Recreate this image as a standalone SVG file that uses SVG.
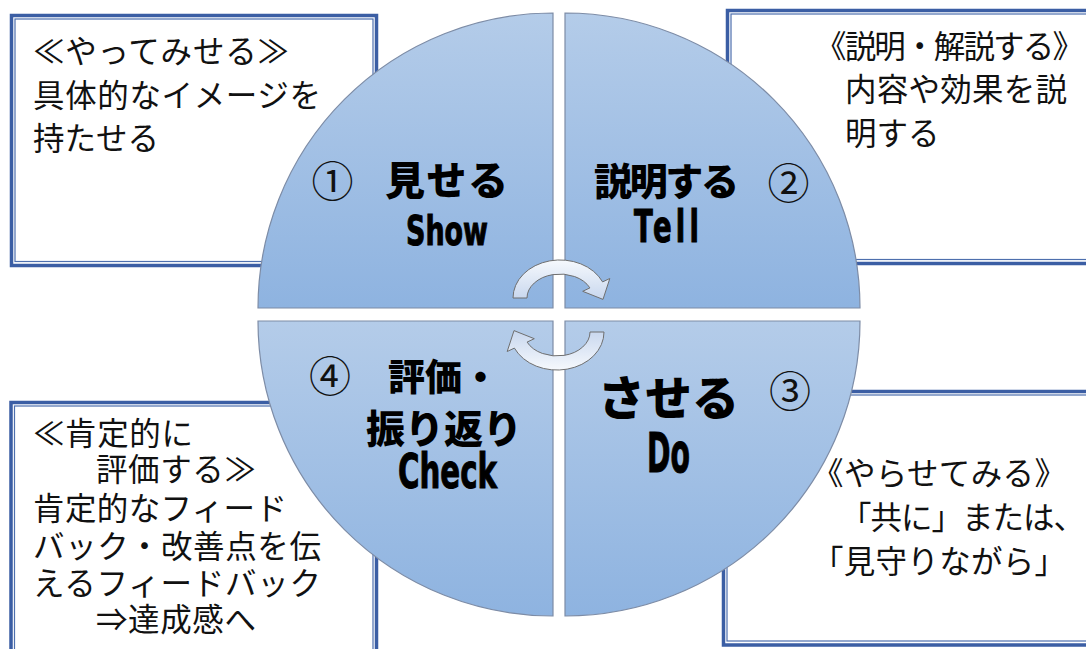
<svg xmlns="http://www.w3.org/2000/svg" width="1086" height="649" viewBox="0 0 1086 649">
<defs>
<linearGradient id="qg" x1="0" y1="0" x2="0" y2="1">
<stop offset="0" stop-color="#b4cce9"/>
<stop offset="1" stop-color="#8eb3e0"/>
</linearGradient>
<linearGradient id="ag" x1="0" y1="0" x2="0" y2="1">
<stop offset="0" stop-color="#f6f9fd"/>
<stop offset="1" stop-color="#c8d7ee"/>
</linearGradient>
<style>
.outer{fill:#fff;stroke:#3b5ea4;stroke-width:3.5}
.inner{fill:none;stroke:#4d6fae;stroke-width:1.2}
.q{fill:url(#qg);stroke:#7d8ca6;stroke-width:1.2}
.bt{font-family:"Noto Sans CJK JP","Noto Sans CJK SC",sans-serif;font-size:31.5px;fill:#111}
.jb{font-family:"Noto Sans CJK JP","Noto Sans CJK SC",sans-serif;font-weight:900;fill:#000}
.en{font-family:"Liberation Sans Narrow","DejaVu Sans Condensed","Liberation Sans",sans-serif;font-weight:bold;fill:#000;stroke:#000;stroke-width:1}
.num{font-family:"Noto Sans CJK JP","Noto Sans CJK SC",sans-serif;font-weight:400;font-size:42px;fill:#111;text-anchor:middle}
.arr{fill:url(#ag);stroke:#6f6f6f;stroke-width:1}
</style>
</defs>
<rect width="1086" height="649" fill="#fff"/>

<g id="box-show">
<rect class="outer" x="11.5" y="15.5" width="365" height="250"/>
<rect class="inner" x="15" y="19" width="358" height="242.5"/>
<text class="bt" x="33" y="63" textLength="256">≪やってみせる≫</text>
<text class="bt" x="33" y="107" textLength="288">具体的なイメージを</text>
<text class="bt" x="33" y="150">持たせる</text>
</g>

<g id="box-tell">
<rect class="outer" x="727.5" y="10.5" width="380" height="253"/>
<rect class="inner" x="731" y="14" width="380" height="245.5"/>
<text class="bt" x="815" y="58" textLength="269">《説明・解説する》</text>
<text class="bt" x="845" y="101" textLength="222">内容や効果を説</text>
<text class="bt" x="845" y="145">明する</text>
</g>

<g id="box-check">
<rect class="outer" x="11" y="402.5" width="365.5" height="260"/>
<rect class="inner" x="14.5" y="406" width="358.5" height="260"/>
<text class="bt" x="33" y="445" textLength="160">≪肯定的に</text>
<text class="bt" x="96" y="481" textLength="160">評価する≫</text>
<text class="bt" x="33" y="520" textLength="254">肯定的なフィード</text>
<text class="bt" x="33" y="558" textLength="288">バック・改善点を伝</text>
<text class="bt" x="33" y="595" textLength="288">えるフィードバック</text>
<text class="bt" x="96" y="631" textLength="160">⇒達成感へ</text>
</g>

<g id="box-do">
<rect class="outer" x="723.5" y="391.5" width="380" height="253.5"/>
<rect class="inner" x="727" y="395" width="380" height="246"/>
<text class="bt" x="812" y="485" textLength="254">《やらせてみる》</text>
<text class="bt" x="840" y="529" textLength="245">「共に」または、</text>
<text class="bt" x="812" y="573" textLength="254">「見守りながら」</text>
</g>

<g id="q-show">
<path class="q" d="M553,308 L258,308 A295,295 0 0 1 553,13 Z"/>
<text class="num" x="332.5" y="197">①</text>
<text class="jb" x="385" y="195" font-size="40" textLength="123">見せる</text>
<text class="en" x="406" y="245" font-size="41" textLength="82" lengthAdjust="spacingAndGlyphs">Show</text>
</g>

<g id="q-tell">
<path class="q" d="M565,308 L565,13 A295,295 0 0 1 860,308 Z"/>
<text class="jb" x="594" y="195" font-size="38" textLength="145">説明する</text>
<text class="num" x="788.5" y="199">②</text>
<text class="en" x="634" y="242" font-size="44" textLength="69" lengthAdjust="spacingAndGlyphs" letter-spacing="6">Tell</text>
</g>

<g id="q-do">
<path class="q" d="M565,321 L860,321 A295,295 0 0 1 565,616 Z"/>
<text class="jb" x="598" y="415" font-size="47" textLength="141">させる</text>
<text class="num" x="790" y="407">③</text>
<text class="en" x="647" y="472" font-size="55" textLength="43" lengthAdjust="spacingAndGlyphs">Do</text>
</g>

<g id="q-check">
<path class="q" d="M553,321 L553,616 A295,295 0 0 1 258,321 Z"/>
<text class="num" x="330" y="392">④</text>
<text class="jb" x="388" y="391" font-size="37" textLength="111">評価・</text>
<text class="jb" x="366" y="443" font-size="39" textLength="156">振り返り</text>
<text class="en" x="398" y="488" font-size="48" textLength="99" lengthAdjust="spacingAndGlyphs">Check</text>
</g>

<g id="connectors">
<path class="arr" d="M513,298 A47,38 0 0 1 602.6,281.9 L609.8,278.5 L603,299.4 L582.7,291.3 L589.9,287.9 A33,24 0 0 0 527,298 Z"/>
<path class="arr" transform="rotate(180 558.5 315)" d="M513,298 A47,38 0 0 1 602.6,281.9 L609.8,278.5 L603,299.4 L582.7,291.3 L589.9,287.9 A33,24 0 0 0 527,298 Z"/>
</g>
</svg>
